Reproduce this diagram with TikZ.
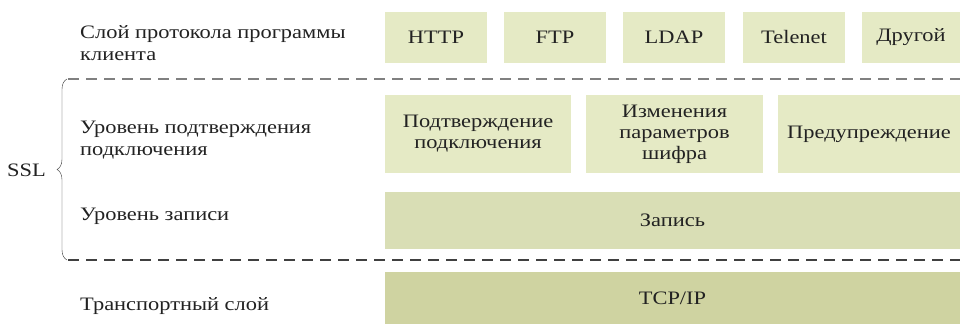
\documentclass[tikz,border=0pt]{standalone}
\usepackage{fontspec}
\setmainfont[FakeStretch=1.18]{Liberation Serif}
\usepackage{xcolor}
\usetikzlibrary{decorations.pathreplacing}

\definecolor{boxlight}{HTML}{E5EAC5}
\definecolor{boxmid}{HTML}{D9DEB5}
\definecolor{boxdark}{HTML}{CFD3A1}
\definecolor{txt}{HTML}{222222}

\tikzset{
  layer/.style={fill=boxlight, inner sep=0pt, align=center, text=txt,
    font=\fontsize{19}{21}\selectfont},
  side/.style={anchor=west, align=left, inner sep=0pt, text=txt,
    font=\fontsize{19}{22}\selectfont},
  sep/.style={dash pattern=on 11pt off 7pt, line width=1.2pt}
}

\begin{document}
\begin{tikzpicture}[x=1pt,y=-1pt]
    \useasboundingbox (0,0) rectangle (960,324);
    % application protocols
    \node[layer, minimum width=102pt, minimum height=51pt] (http) at (436,37.5) {HTTP};
    \node[layer, minimum width=102pt, minimum height=51pt] (ftp) at (555,37.5) {FTP};
    \node[layer, minimum width=102pt, minimum height=51pt] (ldap) at (674,37.5) {LDAP};
    \node[layer, minimum width=102pt, minimum height=51pt] (telenet) at (794,37.5) {Telenet};
    \node[layer, minimum width=98pt, minimum height=51pt] (other) at (911,37.5) {Другой};
    % handshake level
    \node[layer, minimum width=186pt, minimum height=78pt] (hand) at (478,134) {Подтверждение\\подключения};
    \node[layer, minimum width=177pt, minimum height=78pt] (cipher) at (674.5,134) {Изменения\\параметров\\шифра};
    \node[layer, minimum width=182pt, minimum height=78pt] (alert) at (869,134) {Предупреждение};
    % record and transport
    \node[layer, fill=boxmid, minimum width=575pt, minimum height=57pt] (record) at (672.5,220.5) {Запись};
    \node[layer, fill=boxdark, minimum width=575pt, minimum height=52pt] (tcp) at (672.5,298) {TCP/IP};
    % layer names
    \node[side] (applabel) at (80,43) {Слой протокола программы\\клиента};
    \node[side] (handlabel) at (80,140.5) {Уровень подтверждения\\подключения};
    \node[side] (reclabel) at (80,216) {Уровень записи};
    \node[side] (translabel) at (80,306.5) {Транспортный слой};
    % separators and brace
    \draw[sep, color=gray] (68,79) -- (960,79);
    \draw[sep, color=black!75] (68,260) -- (960,260);
    \draw[thin, color=black!80, decorate, decoration={brace, amplitude=10pt}]
      (67,260) -- (67,79);
    \node[side, anchor=east] (ssl) at (46,170) {SSL};
  \end{tikzpicture}
\end{document}
